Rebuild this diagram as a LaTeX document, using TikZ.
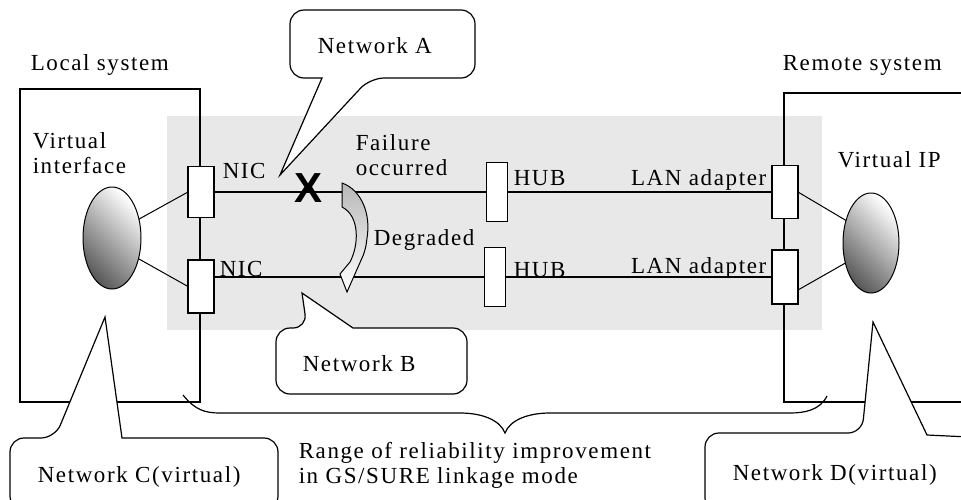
\documentclass[tikz,border=0pt]{standalone}
\usepackage{fontspec}
\setmainfont{Liberation Serif}[LetterSpace=7]
\newfontfamily\crossfont{Liberation Sans}
\usetikzlibrary{shapes.geometric}

\begin{document}
\begin{tikzpicture}[x=1pt, y=-1pt, line width=1.5pt,
  lbl/.style={anchor=base west, inner sep=0pt, align=left, font=\fontsize{23}{25}\selectfont},
  port/.style={draw, fill=white, inner sep=0pt, outer sep=0pt, minimum width=26pt},
  vif/.style={ellipse, draw, line width=1pt, inner sep=0pt, outer sep=0pt,
    minimum width=58pt, minimum height=102pt,
    top color=white, bottom color=black!65, shading angle=-45},
  bubble/.style={draw, fill=white, line width=1.2pt}]

  \useasboundingbox (0,0) rectangle (961,499);

  % Reliability range
  \fill[black!9] (167,116) rectangle (822,330);

  % Systems
  \draw (20,89) rectangle (200,402);
  \draw (990,93) -- (784,93) -- (784,402) -- (990,402);

  % Range brace
  \draw[line width=1.2pt] (183,395) .. controls (195,410) and (205,413) .. (220,413)
    -- (460,413) .. controls (482,413) and (500,420) .. (505,433)
    .. controls (510,420) and (528,413) .. (550,413)
    -- (790,413) .. controls (805,413) and (820,410) .. (827,396);

  % Callouts
  \draw[bubble] (382,10) [rounded corners=14pt] -- (475,10) -- (475,78) -- (370,78)
    [sharp corners] -- (280,175) -- (322,78) [rounded corners=14pt] -- (290,78) -- (290,10) -- cycle;
  \draw[bubble] (370,394) [rounded corners=14pt] -- (276,394) -- (276,328) -- (307,328)
    [sharp corners] -- (302,293) -- (353,328) [rounded corners=14pt] -- (467,328) -- (467,394) -- cycle;
  \draw[bubble] (144,510) [rounded corners=14pt] -- (10,510) -- (10,438) -- (55,438)
    [sharp corners] -- (105,317) -- (122,438) [rounded corners=14pt] -- (278,438) -- (278,510) -- cycle;
  \draw[bubble] (840,512) [rounded corners=14pt] -- (705,512) -- (705,433) -- (862,433)
    [sharp corners] -- (873,322) -- (927,435) [rounded corners=14pt] -- (990,438) -- (990,512) -- cycle;

  % Adapters
  \node[port, minimum height=51pt] (nicA) at (201,192) {};
  \node[port, minimum height=53pt] (nicB) at (201,286.5) {};
  \node[port, minimum width=21pt, minimum height=59pt] (hubA) at (497,192) {};
  \node[port, minimum width=21pt, minimum height=59pt] (hubB) at (495,277) {};
  \node[port, minimum height=53pt] (lanA) at (785,192) {};
  \node[port, minimum height=54pt] (lanB) at (785,277) {};

  \draw (nicA) -- (hubA);
  \draw (hubA) -- (lanA);
  \draw (nicB.east |- hubB) -- (hubB);
  \draw (hubB) -- (lanB);

  % Virtual interfaces
  \node[vif] (vifL) at (112,238) {};
  \node[vif, minimum width=56pt, minimum height=100pt] (vifR) at (871,243) {};
  \draw[line width=1pt] (vifL.35) -- (nicA.west);
  \draw[line width=1pt] (vifL.-38) -- (nicB.west);
  \draw[line width=1pt] (vifR.138) -- (lanA.east);
  \draw[line width=1pt] (vifR.218) -- (lanB.-45);

  % Switch-over
  \draw[line width=1pt, top color=black!28, bottom color=white]
    (342,183) .. controls (362,190) and (371,215) .. (367,238)
    .. controls (366,248) and (364,254) .. (362,258) -- (347,292) -- (340,274)
    -- (350,262) .. controls (359,245) and (360,216) .. (342,207) -- cycle;
  \node[font=\crossfont\bfseries\fontsize{42}{42}\selectfont, inner sep=0pt] (fault) at (309,188) {X};

  % Labels
  \node[lbl] (local) at (30,70) {Local system};
  \node[lbl] (remote) at (782,70) {Remote system};
  \node[lbl] (vifLtxt) at (32,173) {Virtual\\interface};
  \node[lbl] (vifRtxt) at (837,167) {Virtual IP};
  \node[lbl] (nicAtxt) at (222,178) {NIC};
  \node[lbl] (nicBtxt) at (219,276) {NIC};
  \node[lbl] (fail) at (355,175) {Failure\\occurred};
  \node[lbl] (degr) at (373,245) {Degraded};
  \node[lbl] (hubAtxt) at (513,185) {HUB};
  \node[lbl] (hubBtxt) at (513,277) {HUB};
  \node[lbl, anchor=base east] (lanAtxt) at (767,185) {LAN adapter};
  \node[lbl, anchor=base east] (lanBtxt) at (767,273) {LAN adapter};
  \node[lbl] (range) at (298,483) {Range of reliability improvement\\in GS/SURE linkage mode};
  \node[lbl] (netA) at (317,53) {Network A};
  \node[lbl] (netB) at (302,371) {Network B};
  \node[lbl] (netC) at (37,482) {Network C(virtual)};
  \node[lbl] (netD) at (732,480) {Network D(virtual)};
\end{tikzpicture}
\end{document}
